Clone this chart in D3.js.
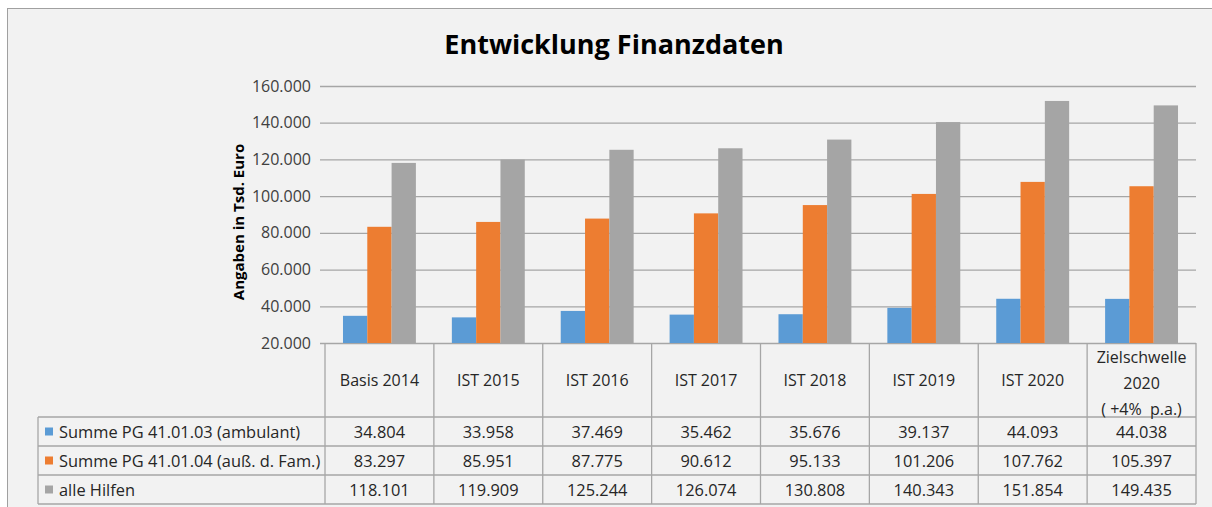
<!DOCTYPE html>
<html lang="de">
<head>
<meta charset="UTF-8">
<title>Entwicklung Finanzdaten</title>
<script src="https://cdn.jsdelivr.net/npm/d3@7"></script>
<style>
    body { margin: 0; background: #fff; }
    svg text { font-family: "Open Sans", sans-serif; fill: #262626; white-space: pre; }
</style>
</head>
<body>
<script>
    // data
    var categories = ["Basis 2014", "IST 2015", "IST 2016", "IST 2017", "IST 2018", "IST 2019", "IST 2020", "Zielschwelle 2020 ( +4%  p.a.)"];
    var categoryLines = [["Basis 2014"], ["IST 2015"], ["IST 2016"], ["IST 2017"], ["IST 2018"], ["IST 2019"], ["IST 2020"], ["Zielschwelle", "2020", "( +4%  p.a.)"]];
    var seriesNames = ["Summe PG 41.01.03 (ambulant)", "Summe PG 41.01.04 (auß. d. Fam.)", "alle Hilfen"];
    var ambulant = [34804, 33958, 37469, 35462, 35676, 39137, 44093, 44038];
    var ausserFam = [83297, 85951, 87775, 90612, 95133, 101206, 107762, 105397];
    var alleHilfen = [118101, 119909, 125244, 126074, 130808, 140343, 151854, 149435];
    var colors = ["#5b9bd5", "#ed7d31", "#a5a5a5"];
    var yTicks = [20000, 40000, 60000, 80000, 100000, 120000, 140000, 160000];

    var series = [ambulant, ausserFam, alleHilfen];

    var W = 1212, H = 507;
    var plot = {left: 325, right: 1196, top: 86, bottom: 343};
    var table = {left: 38, header: 417, row: 29};

    var fmt = function (v) { return d3.format(",")(v).replace(/,/g, "."); };

    var svg = d3.select("body").append("svg")
        .attr("width", W).attr("height", H);

    // chart area
    svg.append("rect")
        .attr("x", 7.5).attr("y", 8.5)
        .attr("width", W).attr("height", H)
        .attr("fill", "#f2f2f2").attr("stroke", "#a0a0a0");

    svg.append("text")
        .attr("x", 614).attr("y", 54)
        .attr("text-anchor", "middle")
        .style("font-size", "27px").style("font-weight", "bold")
        .style("fill", "#000")
        .text("Entwicklung Finanzdaten");

    var x = d3.scaleBand()
        .domain(categories)
        .range([plot.left, plot.right]);

    var xInner = d3.scaleBand()
        .domain(d3.range(series.length))
        .range([0, x.bandwidth()])
        .paddingOuter(0.74);

    var y = d3.scaleLinear()
        .domain([20000, 160000])
        .range([plot.bottom, plot.top]);

    // gridlines + y axis
    var yAxis = d3.axisLeft(y)
        .tickValues(yTicks)
        .tickFormat(fmt)
        .tickSize(-(plot.right - plot.left))
        .tickPadding(14);

    var gy = svg.append("g")
        .attr("transform", "translate(" + plot.left + ",0)")
        .call(yAxis);
    gy.select(".domain").remove();
    gy.selectAll(".tick line")
        .attr("x1", -5)
        .attr("stroke", "#a6a6a6").attr("stroke-width", 1.3);
    gy.selectAll(".tick text")
        .style("font-size", "16px")
        .style("font-family", "'Open Sans', sans-serif")
        .style("fill", "#404040");

    svg.append("text")
        .attr("transform", "translate(244,222) rotate(-90)")
        .attr("text-anchor", "middle")
        .style("font-size", "15px").style("font-weight", "bold")
        .style("fill", "#000")
        .text("Angaben in Tsd. Euro");

    // bars
    series.forEach(function (vals, s) {
        svg.append("g").selectAll("rect")
            .data(vals)
            .enter()
            .append("rect")
                .attr("x", function (d, i) { return x(categories[i]) + xInner(s); })
                .attr("y", function (d) { return y(d); })
                .attr("width", xInner.bandwidth())
                .attr("height", function (d) { return y(20000) - y(d); })
                .attr("fill", colors[s]);
    });

    // data table
    var lineColor = "#a6a6a6";
    var tableBottom = table.header + table.row * series.length;
    var tg = svg.append("g").attr("stroke", lineColor).attr("stroke-width", 1.3);

    // vertical lines at column borders
    var borders = categories.map(function (c) { return x(c); }).concat([plot.right]);
    borders.forEach(function (bx) {
        tg.append("line")
            .attr("x1", bx).attr("x2", bx)
            .attr("y1", plot.bottom).attr("y2", tableBottom);
    });
    tg.append("line")
        .attr("x1", table.left).attr("x2", table.left)
        .attr("y1", table.header).attr("y2", tableBottom);
    d3.range(series.length + 1).forEach(function (r) {
        var ry = table.header + r * table.row;
        tg.append("line")
            .attr("x1", table.left).attr("x2", plot.right)
            .attr("y1", ry).attr("y2", ry);
    });

    // header labels
    categories.forEach(function (c, i) {
        var lines = categoryLines[i];
        var cy = (plot.bottom + table.header) / 2 + (lines.length > 1 ? 3 : 0);
        var lh = 26;
        var t = svg.append("text")
            .attr("text-anchor", "middle")
            .style("font-size", "16px");
        lines.forEach(function (l, k) {
            t.append("tspan")
                .attr("x", x(c) + x.bandwidth() / 2)
                .attr("y", cy + (k - (lines.length - 1) / 2) * lh + 5.5)
                .text(l);
        });
    });

    // rows
    series.forEach(function (vals, s) {
        var ry = table.header + s * table.row;
        svg.append("rect")
            .attr("x", 45).attr("y", ry + table.row / 2 - 4)
            .attr("width", 8).attr("height", 8)
            .attr("fill", colors[s]);
        svg.append("text")
            .attr("x", 59).attr("y", ry + table.row / 2 + 6)
            .style("font-size", "16.4px")
            .text(seriesNames[s]);
        svg.append("g").selectAll("text")
            .data(vals)
            .enter()
            .append("text")
                .attr("x", function (d, i) { return x(categories[i]) + x.bandwidth() / 2; })
                .attr("y", ry + table.row / 2 + 6)
                .attr("text-anchor", "middle")
                .style("font-size", "16.4px")
                .text(fmt);
    });
</script>
</body>
</html>
